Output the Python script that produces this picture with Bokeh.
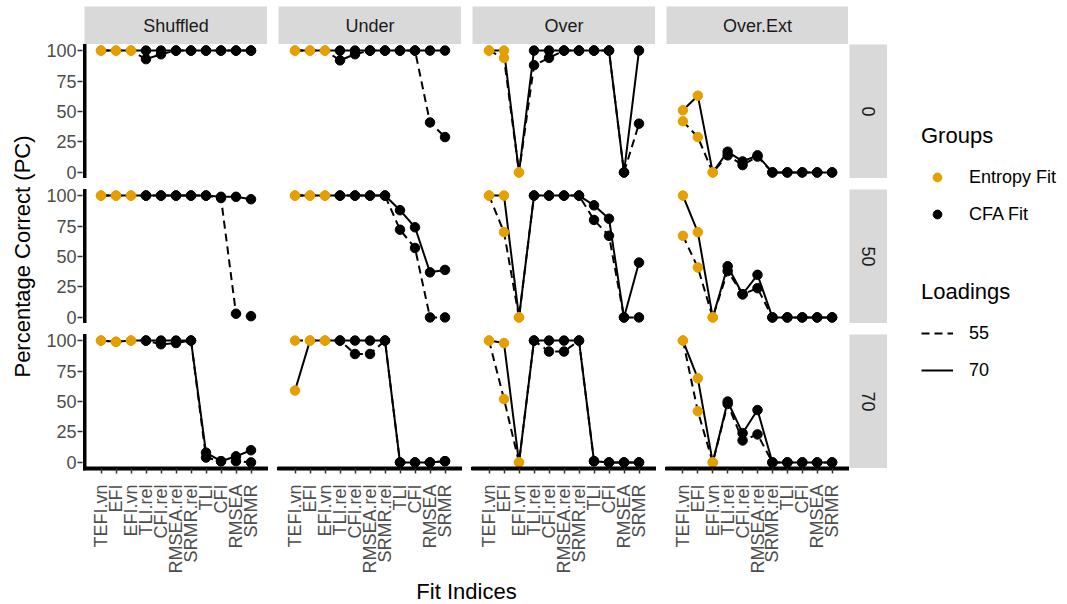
import math

from bokeh.core.properties import value
from bokeh.embed import file_html
from bokeh.layouts import column, row
from bokeh.models import (CategoricalAxis, ColumnDataSource, FactorRange, FixedTicker,
                          Legend, LegendItem, LinearAxis, Range1d, Spacer)
from bokeh.plotting import figure
from bokeh.resources import INLINE

# ---------------------------------------------------------------- data
fit_indices = ["TEFI.vn", "EFI", "EFI.vn", "TLI.rel", "CFI.rel", "RMSEA.rel",
               "SRMR.rel", "TLI", "CFI", "RMSEA", "SRMR"]
entropy_indices = ["TEFI.vn", "EFI", "EFI.vn"]
conditions = ["Shuffled", "Under", "Over", "Over.Ext"]
correlations = ["0", "50", "70"]
loadings = ["55", "70"]
group_labels = ["Entropy Fit", "CFA Fit"]
y_ticks = [0, 25, 50, 75, 100]

# Percentage correct (PC), one list per condition / correlation / loading
shuffled_0_55 = [100, 100, 100, 93, 97, 100, 100, 100, 100, 100, 100]
shuffled_0_70 = [100, 100, 100, 100, 100, 100, 100, 100, 100, 100, 100]
shuffled_50_55 = [100, 100, 100, 100, 100, 100, 100, 100, 98, 3, 1]
shuffled_50_70 = [100, 100, 100, 100, 100, 100, 100, 100, 99, 99, 97]
shuffled_70_55 = [100, 99, 100, 100, 97, 98, 100, 4, 1, 1, 0]
shuffled_70_70 = [100, 99, 100, 100, 100, 100, 100, 8, 1, 5, 10]

under_0_55 = [100, 100, 100, 92, 97, 100, 100, 100, 100, 41, 29]
under_0_70 = [100, 100, 100, 100, 100, 100, 100, 100, 100, 100, 100]
under_50_55 = [100, 100, 100, 100, 100, 100, 100, 72, 57, 0, 0]
under_50_70 = [100, 100, 100, 100, 100, 100, 100, 88, 74, 37, 39]
under_70_55 = [100, 100, 100, 100, 89, 89, 100, 0, 0, 0, 1]
under_70_70 = [59, 100, 100, 100, 100, 100, 100, 0, 0, 0, 1]

over_0_55 = [100, 94, 0, 88, 94, 100, 100, 100, 100, 0, 40]
over_0_70 = [100, 100, 0, 100, 100, 100, 100, 100, 100, 0, 100]
over_50_55 = [100, 70, 0, 100, 100, 100, 100, 80, 67, 0, 0]
over_50_70 = [100, 100, 0, 100, 100, 100, 100, 92, 81, 0, 45]
over_70_55 = [100, 52, 0, 100, 91, 91, 100, 1, 0, 0, 0]
over_70_70 = [100, 98, 0, 100, 100, 100, 100, 1, 0, 0, 0]

overext_0_55 = [42, 29, 0, 14, 6, 13, 0, 0, 0, 0, 0]
overext_0_70 = [51, 63, 0, 17, 9, 14, 0, 0, 0, 0, 0]
overext_50_55 = [67, 41, 0, 38, 19, 24, 0, 0, 0, 0, 0]
overext_50_70 = [100, 70, 0, 42, 19, 35, 0, 0, 0, 0, 0]
overext_70_55 = [100, 42, 0, 48, 18, 23, 0, 0, 0, 0, 0]
overext_70_70 = [100, 69, 0, 50, 24, 43, 0, 0, 0, 0, 0]

results = {
    ("Shuffled", "0"): (shuffled_0_55, shuffled_0_70),
    ("Shuffled", "50"): (shuffled_50_55, shuffled_50_70),
    ("Shuffled", "70"): (shuffled_70_55, shuffled_70_70),
    ("Under", "0"): (under_0_55, under_0_70),
    ("Under", "50"): (under_50_55, under_50_70),
    ("Under", "70"): (under_70_55, under_70_70),
    ("Over", "0"): (over_0_55, over_0_70),
    ("Over", "50"): (over_50_55, over_50_70),
    ("Over", "70"): (over_70_55, over_70_70),
    ("Over.Ext", "0"): (overext_0_55, overext_0_70),
    ("Over.Ext", "50"): (overext_50_55, overext_50_70),
    ("Over.Ext", "70"): (overext_70_55, overext_70_70),
}

# ---------------------------------------------------------------- style
FONT = "Liberation Sans"
ENTROPY_COLOR = "#E69F00"
CFA_COLOR = "#000000"
STRIP_FILL = "#D9D9D9"
DASHES = {"55": "8 5", "70": "solid"}

PANEL_W = [183, 183, 183, 182]   # plotting frame widths
PANEL_H = 134
GAP = 11                        # space between facet frames
PAD = 1                         # white border on each side of a frame
BOTTOM = 109                    # x tick-label band under the last row
STRIP = 38
TOP = 6
XTITLE_H = 27
YTITLE_W = 40
YAXIS_W = 43
LEGEND_W = 180
TOTAL_H = 604

Y_RANGE = (-5, 105)
point_colors = [ENTROPY_COLOR if f in entropy_indices else CFA_COLOR for f in fit_indices]


def base_figure(width, height, x_range, y_range, **borders):
    kw = dict(min_border=0)
    kw.update(borders)
    p = figure(width=width, height=height, x_range=x_range, y_range=y_range,
               x_axis_location=None, y_axis_location=None, toolbar_location=None,
               output_backend="svg", title=None, **kw)
    p.grid.visible = False
    p.outline_line_color = None
    return p


def blank(width, height, fill="white"):
    p = base_figure(width, height, Range1d(0, 1), Range1d(0, 1))
    p.background_fill_color = fill
    p.border_fill_color = fill
    return p


def strip(label, width, height, angle=0.0):
    s = blank(width, height, STRIP_FILL)
    s.text(x=[0.5], y=[0.5], text=[label], angle=angle, text_align="center",
           text_baseline="middle", text_font=value(FONT), text_font_size="18px",
           text_color="#1A1A1A")
    return s


def style_ticks(axis):
    axis.major_tick_in = 0
    axis.major_tick_out = 5
    axis.major_tick_line_color = "#333333"
    axis.major_tick_line_width = 1.5
    axis.minor_tick_in = 0
    axis.minor_tick_out = 0
    axis.major_label_text_font = FONT
    axis.major_label_text_font_size = "18px"
    axis.major_label_text_color = "#4D4D4D"


def y_axis_strip():
    """Tick marks and labels of the PC scale for one facet row."""
    p = base_figure(YAXIS_W, PANEL_H + 10, Range1d(0, 1), Range1d(*Y_RANGE),
                    min_border_left=YAXIS_W - 1, min_border_top=5, min_border_bottom=5)
    ax = LinearAxis(ticker=FixedTicker(ticks=y_ticks))
    style_ticks(ax)
    ax.axis_line_color = None
    ax.major_label_standoff = 1
    p.add_layout(ax, "left")
    return p


def panel(cond, corr, ci, ri):
    first_col = ci == 0
    last_row = ri == len(correlations) - 1
    p = base_figure(PANEL_W[ci] + 2 * PAD, PANEL_H + (BOTTOM if last_row else 0),
                    FactorRange(factors=fit_indices, range_padding=1.2 / len(fit_indices),
                                range_padding_units="percent"),
                    Range1d(*Y_RANGE),
                    min_border_left=PAD, min_border_right=PAD,
                    min_border_bottom=BOTTOM if last_row else 0)

    series = dict(zip(loadings, results[(cond, corr)]))
    sources = {ld: ColumnDataSource(dict(index=fit_indices, pc=vals, color=point_colors))
               for ld, vals in series.items()}
    for ld in loadings:
        p.line("index", "pc", source=sources[ld], line_color="black", line_width=2,
               line_dash=DASHES[ld])
    for ld in loadings:
        p.scatter("index", "pc", source=sources[ld], size=9.5, fill_color="color",
                  line_color="color")

    if first_col:
        # bare axis line along the left edge of the frame
        yax = LinearAxis(ticker=FixedTicker(ticks=[]))
        yax.axis_line_width = 4
        yax.axis_line_color = "black"
        yax.axis_line_cap = "round"
        yax.major_tick_out = 0
        yax.major_tick_in = 0
        yax.minor_tick_out = 0
        yax.major_label_standoff = 0
        yax.major_label_text_font_size = "0px"
        p.add_layout(yax, "left")

    if last_row:
        xax = CategoricalAxis(major_label_orientation=math.pi / 2)
        style_ticks(xax)
        xax.axis_line_width = 4
        xax.axis_line_color = "black"
        xax.axis_line_cap = "round"
        xax.major_label_standoff = 11
        p.add_layout(xax, "below")
    return p


# ---------------------------------------------------------------- facets
facet_columns = []
for ci, cond in enumerate(conditions):
    cells = []
    for ri, corr in enumerate(correlations):
        if ri:
            cells.append(Spacer(width=PANEL_W[ci] + 2 * PAD, height=GAP))
        cells.append(panel(cond, corr, ci, ri))
    facet_columns.append(column(*cells))

body_h = 3 * PANEL_H + 2 * GAP + BOTTOM
right_strips = []
for ri, corr in enumerate(correlations):
    if ri:
        right_strips.append(Spacer(width=STRIP, height=GAP))
    right_strips.append(strip(corr, STRIP, PANEL_H, angle=-math.pi / 2))
right_strips.append(Spacer(width=STRIP, height=BOTTOM))

body = [facet_columns[0]]
for ci in range(1, len(conditions)):
    body.append(Spacer(width=GAP - 2 * PAD, height=body_h))
    body.append(facet_columns[ci])
body.append(column(*right_strips))

header = [Spacer(width=PAD, height=STRIP)]
for ci, cond in enumerate(conditions):
    if ci:
        header.append(Spacer(width=GAP, height=STRIP))
    header.append(strip(cond, PANEL_W[ci], STRIP))
header.append(Spacer(width=PAD + STRIP, height=STRIP))

frames_w = sum(PANEL_W) + GAP * (len(conditions) - 1)
main_w = frames_w + 2 * PAD + STRIP
xtitle = blank(frames_w, XTITLE_H)
xtitle.text(x=[0.5], y=[0.5], text=["Fit Indices"], text_align="center",
            text_baseline="middle", text_font=value(FONT), text_font_size="22px",
            text_color="black")

main_block = column(
    Spacer(width=main_w, height=TOP),
    row(*header),
    row(*body),
    row(Spacer(width=PAD, height=XTITLE_H), xtitle, Spacer(width=PAD + STRIP, height=XTITLE_H)),
)

# y scale: one tick/label strip per facet row
frames_top = TOP + STRIP
y_cells = [Spacer(width=YAXIS_W, height=frames_top - 5)]
for ri in range(len(correlations)):
    if ri:
        y_cells.append(Spacer(width=YAXIS_W, height=GAP - 10))
    y_cells.append(y_axis_strip())
y_cells.append(Spacer(width=YAXIS_W, height=TOTAL_H - frames_top - 3 * PANEL_H - 2 * GAP - 5))
y_block = column(*y_cells)

frames_h = 3 * PANEL_H + 2 * GAP
ytitle = blank(YTITLE_W, frames_h)
ytitle.text(x=[0.56], y=[0.5], text=["Percentage Correct (PC)"], angle=math.pi / 2,
            text_align="center", text_baseline="middle", text_font=value(FONT),
            text_font_size="22px", text_color="black")
ytitle_block = column(Spacer(width=YTITLE_W, height=frames_top), ytitle,
                      Spacer(width=YTITLE_W, height=TOTAL_H - frames_top - frames_h))

# ---------------------------------------------------------------- legends
lg = blank(LEGEND_W, TOTAL_H)
r_entropy = lg.scatter(x=[-5], y=[-5], size=9, color=ENTROPY_COLOR)
r_cfa = lg.scatter(x=[-5], y=[-5], size=9, color=CFA_COLOR)
r_55 = lg.line(x=[-6, -5], y=[-5, -5], line_color="black", line_width=2, line_dash=DASHES["55"])
r_70 = lg.line(x=[-6, -5], y=[-5, -5], line_color="black", line_width=2, line_dash=DASHES["70"])


def legend(title, items, location):
    return Legend(items=items, title=title, location=location, orientation="vertical",
                  border_line_color=None, background_fill_alpha=0, padding=0, margin=0,
                  spacing=15, glyph_width=32, glyph_height=22, label_height=22,
                  label_standoff=16, label_text_font=FONT, label_text_font_size="18px",
                  label_text_color="black", title_text_font=FONT,
                  title_text_font_size="22px", title_text_font_style="normal",
                  title_text_color="black", title_standoff=17)


lg.add_layout(legend("Groups", [LegendItem(label=group_labels[0], renderers=[r_entropy]),
                                LegendItem(label=group_labels[1], renderers=[r_cfa])],
                     (34, 379)))
lg.add_layout(legend("Loadings", [LegendItem(label=loadings[0], renderers=[r_55]),
                                  LegendItem(label=loadings[1], renderers=[r_70])],
                     (34, 223)))

layout = row(ytitle_block, y_block, main_block, lg)

with open("out.html", "w") as f:
    f.write(file_html(layout, INLINE, title="Fit Indices"))
